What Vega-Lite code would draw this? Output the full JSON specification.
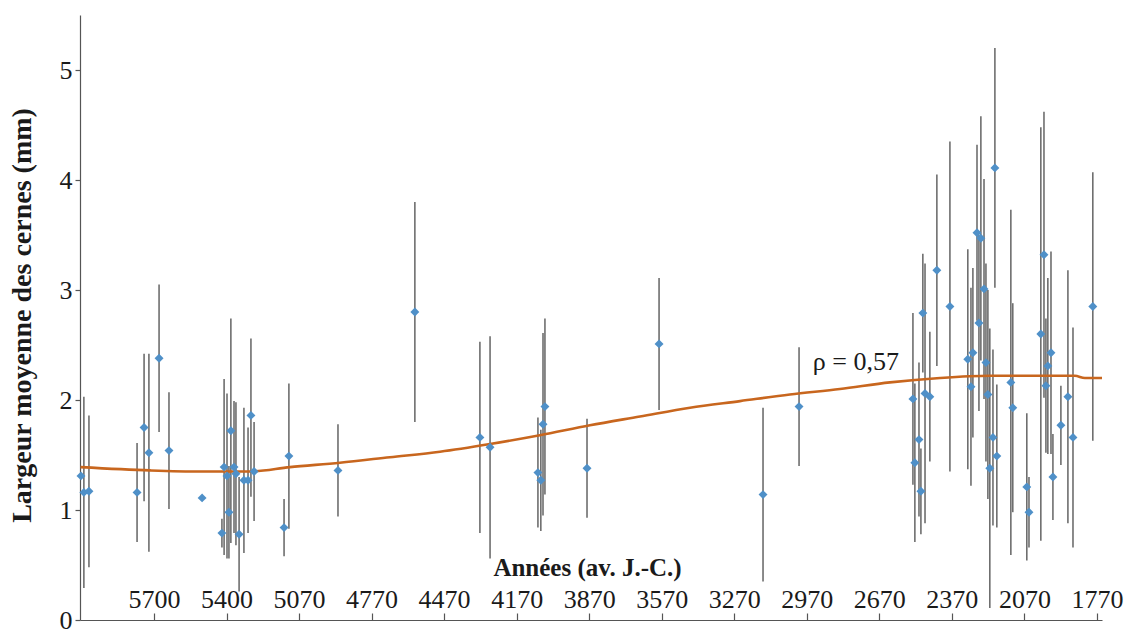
{
  "$schema": "https://vega.github.io/schema/vega-lite/v6.json",
  "width": 1022,
  "height": 605,
  "autosize": "none",
  "padding": {"left": 80, "top": 15, "right": 23, "bottom": 10},
  "background": "white",
  "config": {"view": {"stroke": null}, "font": "Liberation Serif"},
  "datasets": {
    "pts": [
      {"year": 6002, "value": 1.31, "lo": 1.31, "hi": 1.31},
      {"year": 5990, "value": 1.16, "lo": 0.29, "hi": 2.03},
      {"year": 5969, "value": 1.17, "lo": 0.48, "hi": 1.86},
      {"year": 5770, "value": 1.16, "lo": 0.71, "hi": 1.61},
      {"year": 5741, "value": 1.75, "lo": 1.08, "hi": 2.42},
      {"year": 5721, "value": 1.52, "lo": 0.62, "hi": 2.42},
      {"year": 5679, "value": 2.38, "lo": 1.71, "hi": 3.05},
      {"year": 5638, "value": 1.54, "lo": 1.01, "hi": 2.07},
      {"year": 5501, "value": 1.11, "lo": 1.11, "hi": 1.11},
      {"year": 5419, "value": 0.79, "lo": 0.66, "hi": 0.92},
      {"year": 5410, "value": 1.39, "lo": 0.59, "hi": 2.19},
      {"year": 5398, "value": 1.31, "lo": 0.56, "hi": 2.06},
      {"year": 5390, "value": 0.98, "lo": 0.56, "hi": 1.40},
      {"year": 5382, "value": 1.72, "lo": 0.70, "hi": 2.74},
      {"year": 5369, "value": 1.39, "lo": 0.79, "hi": 1.99},
      {"year": 5361, "value": 1.33, "lo": 0.68, "hi": 1.98},
      {"year": 5348, "value": 0.78, "lo": 0.26, "hi": 1.30},
      {"year": 5328, "value": 1.27, "lo": 0.61, "hi": 1.93},
      {"year": 5311, "value": 1.27, "lo": 0.79, "hi": 1.75},
      {"year": 5299, "value": 1.86, "lo": 1.12, "hi": 2.56},
      {"year": 5286, "value": 1.35, "lo": 0.90, "hi": 1.80},
      {"year": 5162, "value": 0.84, "lo": 0.58, "hi": 1.10},
      {"year": 5142, "value": 1.49, "lo": 0.83, "hi": 2.15},
      {"year": 4939, "value": 1.36, "lo": 0.94, "hi": 1.78},
      {"year": 4621, "value": 2.80, "lo": 1.80, "hi": 3.80},
      {"year": 4352, "value": 1.66, "lo": 0.79, "hi": 2.53},
      {"year": 4310, "value": 1.57, "lo": 0.56, "hi": 2.58},
      {"year": 4112, "value": 1.34, "lo": 0.84, "hi": 1.84},
      {"year": 4100, "value": 1.27, "lo": 0.81, "hi": 1.73},
      {"year": 4091, "value": 1.78, "lo": 0.95, "hi": 2.61},
      {"year": 4083, "value": 1.94, "lo": 1.14, "hi": 2.74},
      {"year": 3909, "value": 1.38, "lo": 0.93, "hi": 1.83},
      {"year": 3611, "value": 2.51, "lo": 1.91, "hi": 3.11},
      {"year": 3181, "value": 1.14, "lo": 0.35, "hi": 1.93},
      {"year": 3032, "value": 1.94, "lo": 1.40, "hi": 2.48},
      {"year": 2561, "value": 2.01, "lo": 1.23, "hi": 2.79},
      {"year": 2553, "value": 1.43, "lo": 0.71, "hi": 2.15},
      {"year": 2536, "value": 1.64, "lo": 0.94, "hi": 2.34},
      {"year": 2528, "value": 1.17, "lo": 0.78, "hi": 1.56},
      {"year": 2520, "value": 2.79, "lo": 2.25, "hi": 3.33},
      {"year": 2511, "value": 2.06, "lo": 0.88, "hi": 3.24},
      {"year": 2491, "value": 2.03, "lo": 1.44, "hi": 2.62},
      {"year": 2462, "value": 3.18, "lo": 2.31, "hi": 4.05},
      {"year": 2408, "value": 2.85, "lo": 1.35, "hi": 4.35},
      {"year": 2334, "value": 2.37, "lo": 1.37, "hi": 3.37},
      {"year": 2321, "value": 2.12, "lo": 1.22, "hi": 3.02},
      {"year": 2313, "value": 2.43, "lo": 1.66, "hi": 3.20},
      {"year": 2296, "value": 3.52, "lo": 2.72, "hi": 4.32},
      {"year": 2288, "value": 2.70, "lo": 1.90, "hi": 3.50},
      {"year": 2280, "value": 3.47, "lo": 2.36, "hi": 4.58},
      {"year": 2267, "value": 3.01, "lo": 2.01, "hi": 4.01},
      {"year": 2259, "value": 2.34, "lo": 1.44, "hi": 3.24},
      {"year": 2251, "value": 2.05, "lo": 1.10, "hi": 3.00},
      {"year": 2243, "value": 1.38, "lo": 0.11, "hi": 2.65},
      {"year": 2230, "value": 1.66, "lo": 0.86, "hi": 2.46},
      {"year": 2222, "value": 4.11, "lo": 3.02, "hi": 5.20},
      {"year": 2214, "value": 1.49, "lo": 0.84, "hi": 2.14},
      {"year": 2156, "value": 2.16, "lo": 0.59, "hi": 3.73},
      {"year": 2148, "value": 1.93, "lo": 0.98, "hi": 2.88},
      {"year": 2090, "value": 1.21, "lo": 0.54, "hi": 1.88},
      {"year": 2081, "value": 0.98, "lo": 0.66, "hi": 1.30},
      {"year": 2032, "value": 2.60, "lo": 0.72, "hi": 4.48},
      {"year": 2019, "value": 3.32, "lo": 2.02, "hi": 4.62},
      {"year": 2011, "value": 2.13, "lo": 1.52, "hi": 2.74},
      {"year": 2003, "value": 2.31, "lo": 1.51, "hi": 3.11},
      {"year": 1990, "value": 2.43, "lo": 1.51, "hi": 3.35},
      {"year": 1982, "value": 1.30, "lo": 0.91, "hi": 1.69},
      {"year": 1949, "value": 1.77, "lo": 1.41, "hi": 2.13},
      {"year": 1920, "value": 2.03, "lo": 0.88, "hi": 3.18},
      {"year": 1899, "value": 1.66, "lo": 0.66, "hi": 2.66},
      {"year": 1817, "value": 2.85, "lo": 1.63, "hi": 4.07}
    ],
    "trend": [
      {"year": 6004, "value": 1.39},
      {"year": 5717, "value": 1.36},
      {"year": 5510, "value": 1.35},
      {"year": 5303, "value": 1.35},
      {"year": 5138, "value": 1.39},
      {"year": 4931, "value": 1.43},
      {"year": 4724, "value": 1.48},
      {"year": 4517, "value": 1.53},
      {"year": 4310, "value": 1.60},
      {"year": 4104, "value": 1.68},
      {"year": 3897, "value": 1.77},
      {"year": 3690, "value": 1.85},
      {"year": 3483, "value": 1.93},
      {"year": 3276, "value": 1.99},
      {"year": 3070, "value": 2.05},
      {"year": 2863, "value": 2.10},
      {"year": 2656, "value": 2.16},
      {"year": 2449, "value": 2.20},
      {"year": 2243, "value": 2.22},
      {"year": 2036, "value": 2.22},
      {"year": 1891, "value": 2.22},
      {"year": 1850, "value": 2.20},
      {"year": 1779, "value": 2.20}
    ],
    "note": [{"label": "ρ = 0,57", "year": 2975, "value": 2.27}]
  },
  "encoding": {
    "x": {
      "field": "year", "type": "quantitative",
      "scale": {"domain": [1779, 6006], "reverse": true, "nice": false, "zero": false},
      "axis": {
        "values": [5700, 5400, 5100, 4800, 4500, 4200, 3900, 3600, 3300, 3000, 2700, 2400, 2100, 1800],
        "labelExpr": "datum.value >= 5400 ? '' + datum.value : '' + (datum.value - 30)",
        "title": "Années (av. J.-C.)",
        "titleFont": "Liberation Serif", "titleFontSize": 25, "titleFontWeight": "bold", "titleColor": "#1a1a1a",
        "titleX": 507, "titleY": -45, "titleBaseline": "alphabetic", "titleAlign": "center",
        "labelFont": "Liberation Serif", "labelFontSize": 26, "labelColor": "#1a1a1a",
        "labelBaseline": "bottom", "labelPadding": -1, "labelFlush": false, "labelOverlap": false,
        "tickSize": -7, "tickColor": "#555555", "tickWidth": 1.2,
        "domainColor": "#555555", "domainWidth": 1.2, "grid": false
      }
    },
    "y": {
      "field": "value", "type": "quantitative",
      "scale": {"domain": [0, 5.5], "nice": false, "zero": true},
      "axis": {
        "values": [0, 1, 2, 3, 4, 5],
        "title": "Largeur moyenne des cernes (mm)",
        "titleFont": "Liberation Serif", "titleFontSize": 28, "titleFontWeight": "bold", "titleColor": "#1a1a1a",
        "titleX": -50, "titleY": 300, "titleBaseline": "alphabetic", "titleAngle": -90, "titleAlign": "center",
        "labelFont": "Liberation Serif", "labelFontSize": 26, "labelColor": "#1a1a1a", "labelPadding": 3,
        "labelBaseline": "alphabetic", "labelOffset": 8,
        "tickSize": 5, "tickColor": "#555555", "tickWidth": 1.2,
        "domainColor": "#555555", "domainWidth": 1.2, "grid": false
      }
    }
  },
  "layer": [
    {
      "data": {"name": "pts"},
      "mark": {"type": "rule", "color": "#6e6e6e", "strokeWidth": 1.6},
      "encoding": {
        "y": {
          "field": "lo", "type": "quantitative",
          "scale": {"domain": [0, 5.5], "nice": false, "zero": true},
          "axis": {
            "values": [0, 1, 2, 3, 4, 5],
            "title": "Largeur moyenne des cernes (mm)",
            "titleFont": "Liberation Serif", "titleFontSize": 28, "titleFontWeight": "bold", "titleColor": "#1a1a1a",
            "titleX": -50, "titleY": 300, "titleBaseline": "alphabetic", "titleAngle": -90, "titleAlign": "center",
            "labelFont": "Liberation Serif", "labelFontSize": 26, "labelColor": "#1a1a1a", "labelPadding": 3,
            "labelBaseline": "alphabetic", "labelOffset": 8,
            "tickSize": 5, "tickColor": "#555555", "tickWidth": 1.2,
            "domainColor": "#555555", "domainWidth": 1.2, "grid": false
          }
        },
        "y2": {"field": "hi"}
      }
    },
    {
      "data": {"name": "trend"},
      "mark": {"type": "line", "color": "#c8661e", "strokeWidth": 2.6, "interpolate": "monotone"},
      "encoding": {}
    },
    {
      "data": {"name": "pts"},
      "mark": {"type": "point", "shape": "diamond", "filled": true, "size": 80, "color": "#4f90c8", "opacity": 1},
      "encoding": {}
    },
    {
      "data": {"name": "note"},
      "mark": {"type": "text", "align": "left", "baseline": "alphabetic", "fontSize": 26, "font": "Liberation Serif", "color": "#1a1a1a"},
      "encoding": {"text": {"field": "label"}}
    }
  ]
}
